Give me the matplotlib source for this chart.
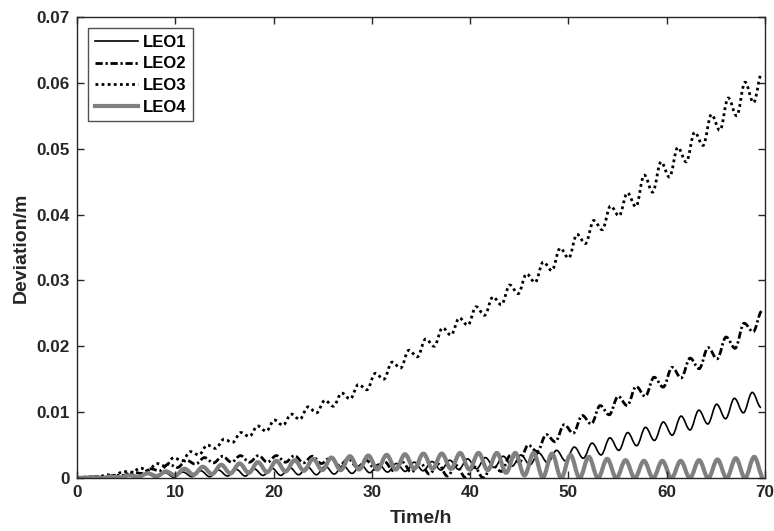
import matplotlib
matplotlib.use("Agg")
import matplotlib.pyplot as plt
import numpy as np
from matplotlib.lines import Line2D
from matplotlib.patches import PathPatch
from matplotlib.path import Path
from matplotlib.ticker import FuncFormatter

plt.rcParams["font.family"] = ["Liberation Sans", "DejaVu Sans"]
plt.rcParams["font.weight"] = "bold"

labels = ["LEO1", "LEO2", "LEO3", "LEO4"]

# oscillation period (h) and time of first crest
leo1_period, leo1_t0 = 1.81, 1.73
leo2_period, leo2_t0 = 1.83, 0.16
leo3_period, leo3_t0 = 1.71, 1.28
leo4_period, leo4_t0 = 1.87, 1.58

# crest / trough values (m), in time order
leo1_peaks = [0.0002, 0.0003, 0.0004, 0.0006, 0.0008, 0.0009, 0.0011, 0.0012, 0.0013, 0.0014,
              0.0015, 0.0016, 0.0017, 0.0018, 0.0019, 0.0020, 0.0021, 0.0022, 0.0024, 0.0025,
              0.0027, 0.0029, 0.0031, 0.0033, 0.0035, 0.0038, 0.0042, 0.0047, 0.0053, 0.0061,
              0.0069, 0.0077, 0.0085, 0.0094, 0.0103, 0.0112, 0.0121, 0.0130]
leo1_troughs = [0.0000, 0.0001, 0.0001, 0.0001, 0.0001, 0.0002, 0.0002, 0.0003, 0.0003, 0.0004,
                0.0004, 0.0005, 0.0005, 0.0006, 0.0007, 0.0008, 0.0009, 0.0010, 0.0011, 0.0012,
                0.0013, 0.0014, 0.0016, 0.0018, 0.0020, 0.0023, 0.0026, 0.0030, 0.0035, 0.0042,
                0.0049, 0.0057, 0.0065, 0.0073, 0.0082, 0.0090, 0.0099, 0.0107]

leo2_peaks = [0.0000, 0.0002, 0.0004, 0.0009, 0.0014, 0.0021, 0.0027, 0.0031, 0.0033, 0.0034,
              0.0034, 0.0034, 0.0034, 0.0033, 0.0031, 0.0029, 0.0027, 0.0025, 0.0024, 0.0023,
              0.0021, 0.0019, 0.0017, 0.0020, 0.0034, 0.0050, 0.0066, 0.0081, 0.0095, 0.0110,
              0.0124, 0.0139, 0.0153, 0.0168, 0.0182, 0.0198, 0.0214, 0.0235, 0.0254]
leo2_troughs = [0.0001, 0.0002, 0.0004, 0.0007, 0.0011, 0.0016, 0.0021, 0.0023, 0.0024, 0.0024,
                0.0024, 0.0024, 0.0023, 0.0022, 0.0019, 0.0016, 0.0013, 0.0011, 0.0009, 0.0006,
                0.0003, 0.0001, 0.0000, 0.0010, 0.0024, 0.0040, 0.0055, 0.0068, 0.0082, 0.0096,
                0.0110, 0.0124, 0.0138, 0.0152, 0.0166, 0.0181, 0.0197, 0.0222]

leo3_peaks = [0.0002, 0.0005, 0.0010, 0.0015, 0.0022, 0.0031, 0.0040, 0.0050, 0.0059, 0.0069,
              0.0079, 0.0088, 0.0097, 0.0108, 0.0118, 0.0129, 0.0142, 0.0159, 0.0176, 0.0194,
              0.0211, 0.0228, 0.0243, 0.0260, 0.0275, 0.0293, 0.0310, 0.0328, 0.0349, 0.0370,
              0.0391, 0.0413, 0.0433, 0.0460, 0.0480, 0.0502, 0.0525, 0.0552, 0.0577, 0.0601,
              0.0615]
leo3_troughs = [0.0001, 0.0004, 0.0008, 0.0012, 0.0018, 0.0026, 0.0035, 0.0045, 0.0054, 0.0063,
                0.0071, 0.0080, 0.0089, 0.0099, 0.0109, 0.0120, 0.0134, 0.0150, 0.0167, 0.0184,
                0.0200, 0.0217, 0.0232, 0.0247, 0.0263, 0.0280, 0.0297, 0.0315, 0.0334, 0.0356,
                0.0377, 0.0398, 0.0412, 0.0434, 0.0457, 0.0480, 0.0505, 0.0528, 0.0550, 0.0570]

leo4_peaks = [0.0001, 0.0002, 0.0004, 0.0007, 0.0010, 0.0014, 0.0017, 0.0020, 0.0022, 0.0024,
              0.0026, 0.0027, 0.0029, 0.0031, 0.0033, 0.0034, 0.0035, 0.0036, 0.0037, 0.0037,
              0.0038, 0.0038, 0.0038, 0.0038, 0.0038, 0.0037, 0.0035, 0.0032, 0.0029, 0.0027,
              0.0026, 0.0026, 0.0026, 0.0027, 0.0028, 0.0030, 0.0032]
leo4_troughs = [0.0000, 0.0001, 0.0002, 0.0003, 0.0004, 0.0005, 0.0006, 0.0007, 0.0008, 0.0009,
                0.0010, 0.0011, 0.0012, 0.0012, 0.0013, 0.0013, 0.0013, 0.0014, 0.0014, 0.0014,
                0.0013, 0.0012, 0.0008, 0.0004, 0.0001, 0.0000, 0.0000, 0.0000, 0.0000, 0.0000,
                0.0000, 0.0000, 0.0000, 0.0000, 0.0000, 0.0000, 0.0000]


def series(peaks, troughs, t0, period):
    """Interleave crests and troughs on their sample times, starting from (0, 0)."""
    t, v = [0.0], [0.0]
    for i, p in enumerate(peaks):
        t.append(t0 + i * period)
        v.append(p)
        if i < len(troughs):
            t.append(t0 + (i + 0.5) * period)
            v.append(troughs[i])
    return np.array(t), np.array(v)


def wave_path(t, v):
    # cubic segments with flat tangents at each crest/trough -> sine-like look
    verts = [(t[0], v[0])]
    codes = [Path.MOVETO]
    for i in range(1, len(t)):
        dt = t[i] - t[i - 1]
        verts += [(t[i - 1] + 0.364 * dt, v[i - 1]), (t[i] - 0.364 * dt, v[i]), (t[i], v[i])]
        codes += [Path.CURVE4] * 3
    return Path(verts, codes)


styles = [
    dict(color="black", lw=1.2, ls="-"),
    dict(color="black", lw=2.0, ls=(0, (2.6, 1.0, 0.8, 1.0))),
    dict(color="black", lw=2.0, ls=(0, (1.0, 1.2))),
    dict(color="#808080", lw=3.0, ls="-"),
]
data = [
    series(leo1_peaks, leo1_troughs, leo1_t0, leo1_period),
    series(leo2_peaks, leo2_troughs, leo2_t0, leo2_period),
    series(leo3_peaks, leo3_troughs, leo3_t0, leo3_period),
    series(leo4_peaks, leo4_troughs, leo4_t0, leo4_period),
]

fig = plt.figure(figsize=(7.74, 5.31), dpi=100)
ax = fig.add_axes([0.0995, 0.0998, 0.8889, 0.8682])

handles = []
for (t, v), lab, st in zip(data, labels, styles):
    ax.add_patch(PathPatch(wave_path(t, v), fill=False, edgecolor=st["color"],
                           lw=st["lw"], linestyle=st["ls"], capstyle="butt"))
    handles.append(Line2D([], [], color=st["color"], lw=st["lw"], ls=st["ls"], label=lab))

ax.set_xlim(0, 70)
ax.set_ylim(0, 0.07)
ax.set_xticks(np.arange(0, 71, 10))
ax.set_yticks(np.arange(0, 0.0701, 0.01))
ax.yaxis.set_major_formatter(FuncFormatter(lambda y, _: f"{y:g}" if abs(y) > 1e-9 else "0"))

axis_col = "#262626"
for s in ax.spines.values():
    s.set_color(axis_col)
    s.set_linewidth(1.0)
ax.tick_params(direction="in", length=5, width=1.0, colors=axis_col,
               labelsize=12.3, top=True, right=True, pad=5)
for lbl in ax.get_xticklabels() + ax.get_yticklabels():
    lbl.set_fontweight("bold")

ax.set_xlabel("Time/h", fontsize=14, fontweight="bold", color=axis_col, labelpad=7)
ax.set_ylabel("Deviation/m", fontsize=14, fontweight="bold", color=axis_col, labelpad=5)

leg = ax.legend(handles=handles, loc="upper left", bbox_to_anchor=(0.016, 0.976),
                borderaxespad=0, frameon=True, fancybox=False, edgecolor=axis_col,
                fontsize=12, handlelength=2.6, handletextpad=0.3, labelspacing=0.4,
                borderpad=0.4)
leg.get_frame().set_linewidth(1.0)
for txt in leg.get_texts():
    txt.set_fontweight("bold")

fig.savefig("out.png", dpi=100)
